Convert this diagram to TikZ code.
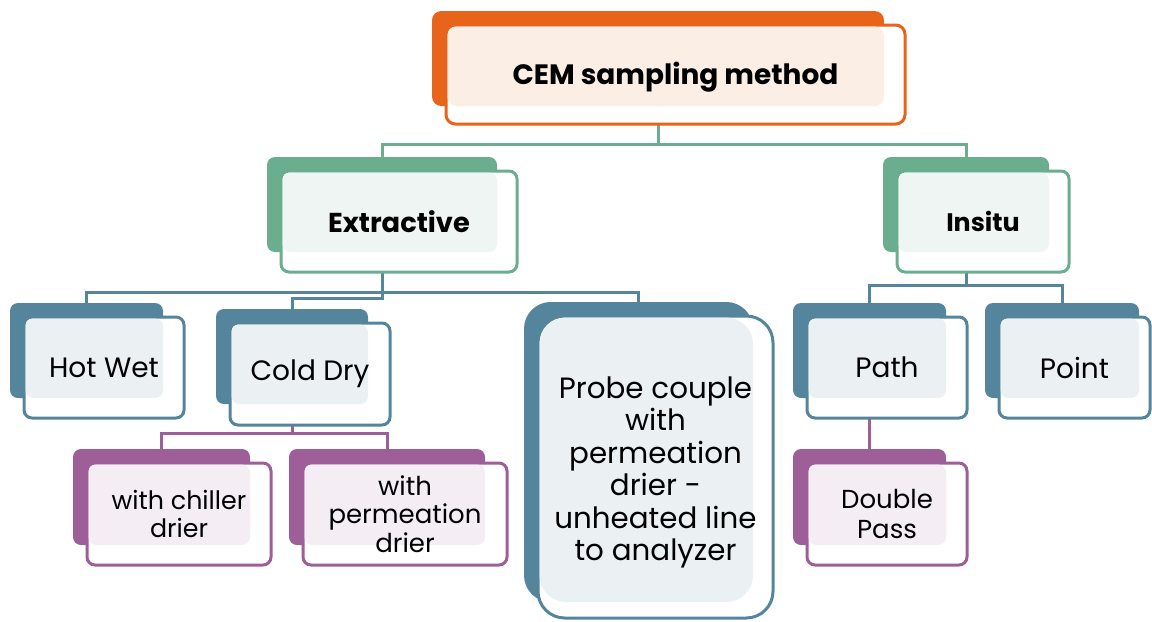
\documentclass[tikz,border=0pt]{standalone}
\usepackage{fontspec}
\setmainfont{Poppins}
\usetikzlibrary{backgrounds}
\definecolor{orgD}{HTML}{E8641B}
\definecolor{orgT}{HTML}{FBEEE5}
\definecolor{grnD}{HTML}{6AAE8F}
\definecolor{grnT}{HTML}{EFF5F2}
\definecolor{bluD}{HTML}{55859C}
\definecolor{bluT}{HTML}{EBF1F3}
\definecolor{purD}{HTML}{9E5E98}
\definecolor{purT}{HTML}{F4EDF4}
\tikzset{
  backbox/.style={inner sep=0pt, outer sep=0pt, anchor=north west},
  frontbox/.style={inner sep=0pt, outer sep=0pt, anchor=north west, fill=white, line width=2.25pt},
  conn/.style={line width=2.25pt},
  lbl/.style={align=center, inner sep=0pt, font=\fontsize{21pt}{25pt}\selectfont},
  lblsmall/.style={align=center, inner sep=0pt, font=\fontsize{19pt}{22pt}\selectfont},
  lblbold/.style={align=center, inner sep=0pt, font=\fontsize{20.5pt}{26pt}\selectfont\bfseries},
}
\def\rad{6pt}
% #1 name, #2 colour prefix, #3 l, #4 t, #5 r, #6 b, #7 front r, #8 front b, #9 text style
\newcommand\cembox[9]{%
  \pgfmathsetmacro\bw{(#5-#3)*0.75}%
  \pgfmathsetmacro\bh{(#6-#4)*0.75}%
  \pgfmathsetmacro\fw{(#7-#3-14)*0.75}%
  \pgfmathsetmacro\fh{(#8-#4-14)*0.75}%
  \node[backbox, fill=#2D, rounded corners=\rad, minimum width=\bw pt, minimum height=\bh pt] (#1B) at (#3,#4) {};
  \node[frontbox, draw=#2D, rounded corners=\rad, minimum width=\fw pt, minimum height=\fh pt] (#1F) at (#3+14,#4+14) {};
  \fill[#2T, rounded corners=\rad] (#3+15.5,#4+15.5) rectangle (#5,#6);
  \node[#9] (#1T) at (#1F.center)
}
\begin{document}
\begin{tikzpicture}[x=0.75pt,y=-0.75pt]
\useasboundingbox (0,0) rectangle (1152,621);
\def\rad{7pt}
\cembox{top}{org}{432}{11}{884}{106}{905}{124}{lblbold, font=\fontsize{21pt}{26pt}\selectfont\bfseries, yshift=-2pt}{CEM sampling method};
\def\rad{6pt}
\cembox{ext}{grn}{267}{157}{497}{252}{517}{272}{lblbold}{Extractive};
\cembox{ins}{grn}{883}{157}{1049}{252}{1069}{272}{lblbold, font=\fontsize{19pt}{26pt}\selectfont\bfseries}{Insitu};
\cembox{hot}{blu}{10}{303}{163}{398}{184}{418}{lbl}{Hot Wet};
\cembox{cold}{blu}{216}{309}{368}{404}{390}{425}{lbl}{Cold Dry};
\def\rad{20pt}
\cembox{probe}{blu}{524}{302}{753}{602}{773}{618}{lbl, font=\fontsize{22pt}{24.4pt}\selectfont, yshift=-4pt}{Probe couple\\with\\permeation\\drier -\\unheated line\\to analyzer};
\def\rad{6pt}
\cembox{path}{blu}{793}{303}{946}{398}{967}{418}{lbl}{Path};
\cembox{point}{blu}{985}{303}{1139}{398}{1150}{418}{lbl}{Point};
\cembox{ch}{pur}{73}{449}{250}{545}{271}{565}{lblsmall, font=\fontsize{19pt}{21pt}\selectfont}{with chiller\\drier};
\cembox{pm}{pur}{289}{449}{485}{545}{507}{565}{lblsmall, font=\fontsize{19.5pt}{21.5pt}\selectfont}{with\\permeation\\drier};
\cembox{dp}{pur}{793}{449}{946}{545}{967}{565}{lblsmall, font=\fontsize{19.5pt}{22pt}\selectfont}{Double\\Pass};
\coordinate (busTop) at (0,144.5);
\coordinate (busE) at (0,292.5);
\coordinate (busC) at (0,298.5);
\coordinate (busI) at (0,285);
\coordinate (busP) at (0,433);
\begin{pgfonlayer}{background}
\draw[conn, grnD] (topB.south |- topF.south) -- (topB.south |- busTop);
\draw[conn, grnD] (extB.north) -- (extB.north |- busTop) -- (insB.north |- busTop) -- (insB.north);
\draw[conn, bluD] (extB.south |- extF.south) -- (extB.south |- busC) -- (coldB.north |- busC) -- (coldB.north);
\draw[conn, bluD] (hotB.north) -- (hotB.north |- busE) -- (probeB.north |- busE) -- (probeB.north);
\draw[conn, bluD] (insB.south |- insF.south) -- (insB.south |- busI);
\draw[conn, bluD] (pathB.north) -- (pathB.north |- busI) -- (pointB.north |- busI) -- (pointB.north);
\draw[conn, purD] (coldB.south |- coldF.south) -- (coldB.south |- busP);
\draw[conn, purD] (chB.north) -- (chB.north |- busP) -- (pmB.north |- busP) -- (pmB.north);
\draw[conn, purD] (pathB.south |- pathF.south) -- (dpB.north);
\end{pgfonlayer}
\end{tikzpicture}
\end{document}
